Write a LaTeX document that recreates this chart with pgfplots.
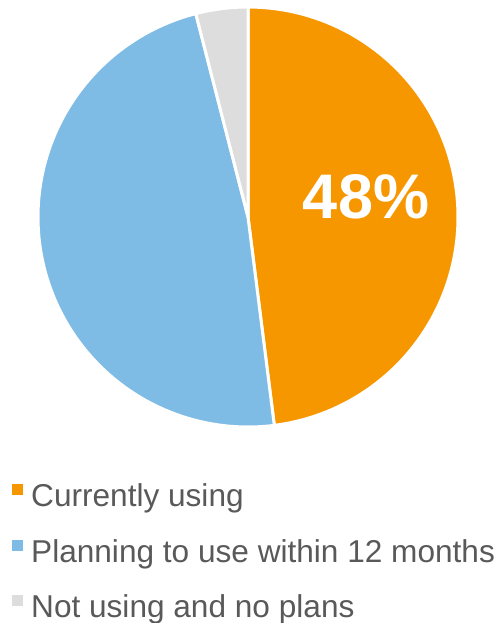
\documentclass[border=0pt]{standalone}
\usepackage{pgfplots}
\pgfplotsset{compat=1.18}
\usepackage{fontspec}
\setmainfont{Liberation Sans}
\definecolor{curcol}{HTML}{F79700}
\definecolor{plancol}{HTML}{7FBCE5}
\definecolor{nocol}{HTML}{DDDDDD}
\definecolor{txtcol}{HTML}{595959}

% shares in percent
\def\shareA{48}
\def\shareB{48}
\def\shareC{4}

\begin{document}
\begin{tikzpicture}
\path[use as bounding box] (0,0) rectangle (498bp,-623bp);
\pgfmathsetmacro\angA{90-3.6*\shareA}
\pgfmathsetmacro\angB{\angA-3.6*\shareB}
\pgfmathsetmacro\angC{\angB-3.6*\shareC}
\begin{axis}[
    at={(248bp,-217bp)}, anchor=center,
    x=210bp, y=210bp,
    xmin=-1, xmax=1, ymin=-1, ymax=1,
    hide axis, clip=false,
    samples=150, variable=\t,
    legend cell align=left,
    legend style={
        draw=none, fill=none,
        at={(axis description cs:0,0)}, anchor=north west,
        xshift=-26bp, yshift=-57bp,
        inner sep=0pt,
        /tikz/row sep=26bp, /tikz/column sep=8bp,
        font=\fontsize{31.6bp}{37bp}\selectfont, text=txtcol,
        nodes={inner sep=0pt, text height=22bp, text depth=7bp},
    },
    legend image code/.code={\fill[#1, draw=none] (0bp,4bp) rectangle (11bp,15bp);},
]
\addplot[fill=curcol, draw=white, line width=3bp, line join=round, domain=\angA:90]
    ({cos(\t)},{sin(\t)}) -- (axis cs:0,0) -- cycle;
\addplot[fill=plancol, draw=white, line width=3bp, line join=round, domain=\angB:\angA]
    ({cos(\t)},{sin(\t)}) -- (axis cs:0,0) -- cycle;
\addplot[fill=nocol, draw=white, line width=3bp, line join=round, domain=\angC:\angB]
    ({cos(\t)},{sin(\t)}) -- (axis cs:0,0) -- cycle;
\legend{Currently using, Planning to use within 12 months, Not using and no plans}
\node[text=white, font=\fontsize{63bp}{70bp}\selectfont\bfseries] at (axis cs:0.562,0.095) {48\%};
\end{axis}
\end{tikzpicture}
\end{document}
